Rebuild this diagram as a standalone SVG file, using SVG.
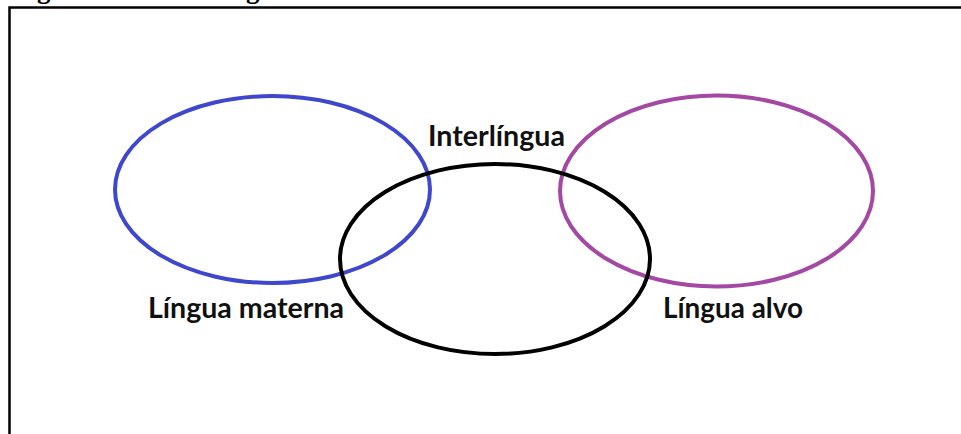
<svg xmlns="http://www.w3.org/2000/svg" width="961" height="434" viewBox="0 0 961 434">
  <style>
    .ring { fill: none; stroke-width: 4; }
    .label { font-family: Lato, "Open Sans", "Liberation Sans", sans-serif; font-weight: bold; font-size: 29px; fill: #111; }
    .caption { font-family: "Liberation Serif", serif; font-weight: bold; font-size: 27px; fill: #000; }
  </style>
  <rect width="961" height="434" fill="#fff"/>
  <!-- caption line above the frame, clipped by the top edge -->
  <text class="caption" x="37" y="-2">g</text>
  <text class="caption" x="246" y="-2">g</text>
  <!-- frame: top and left edges -->
  <path d="M9.5,440 V7.5 H965" fill="none" stroke="#000" stroke-width="2.5"/>
  <g id="connectors"></g>
  <g id="lingua-materna">
    <ellipse class="ring" cx="272.5" cy="189.5" rx="157.5" ry="93.5" stroke="#3f48cc"/>
    <text class="label" x="148" y="318" textLength="196" lengthAdjust="spacingAndGlyphs">Língua materna</text>
  </g>
  <g id="lingua-alvo">
    <ellipse class="ring" cx="716.5" cy="191" rx="156.5" ry="95.5" stroke="#a349a4"/>
    <text class="label" x="663" y="318" textLength="140" lengthAdjust="spacingAndGlyphs">Língua alvo</text>
  </g>
  <g id="interlingua">
    <ellipse class="ring" cx="495" cy="259" rx="155" ry="95" stroke="#000"/>
    <text class="label" x="428" y="146" textLength="137" lengthAdjust="spacingAndGlyphs">Interlíngua</text>
  </g>
</svg>
